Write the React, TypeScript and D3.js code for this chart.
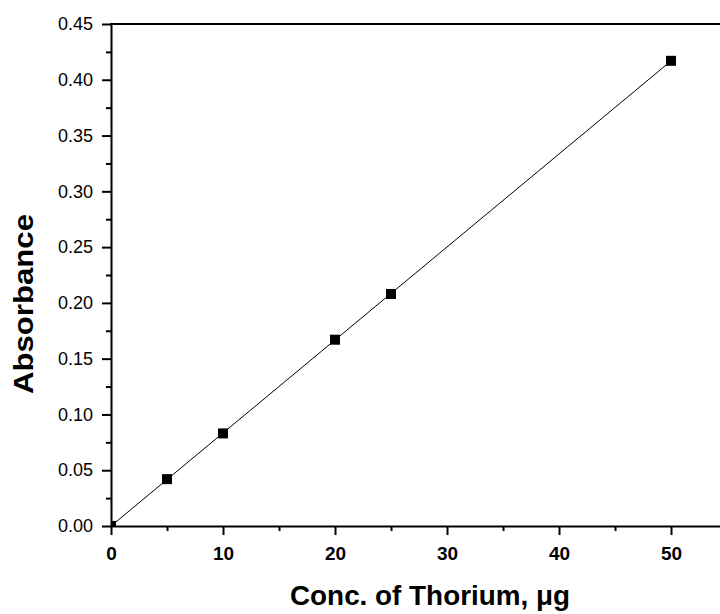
import { useEffect, useRef } from 'react';
import * as d3 from 'd3';

// Calibration data: concentration of thorium (ug) vs absorbance
const concentration = [0, 5, 10, 20, 25, 50];
const absorbance = [0, 0.042, 0.083, 0.167, 0.208, 0.417];

const xTicks = [0, 10, 20, 30, 40, 50];
const xMinorTicks = [5, 15, 25, 35, 45];
const yTicks = [0, 0.05, 0.1, 0.15, 0.2, 0.25, 0.3, 0.35, 0.4, 0.45];
const yMinorTicks = [0.025, 0.075, 0.125, 0.175, 0.225, 0.275, 0.325, 0.375, 0.425];

const svgWidth = 720;
const svgHeight = 614;

function App() {
  const ref = useRef(null);

  useEffect(() => {
    const left = 111;
    const top = 24;
    const bottom = 526;
    const right = 720;
    const font = 'Arial, "Liberation Sans", sans-serif';

    const svg = d3.select(ref.current);
    svg.selectAll('*').remove();

    const x = d3.scaleLinear().domain([0, 10]).range([left, 223]);
    const y = d3.scaleLinear().domain([0, 0.45]).range([bottom, top]);

    // clip for data marks
    svg
      .append('defs')
      .append('clipPath')
      .attr('id', 'plot-clip')
      .append('rect')
      .attr('x', left)
      .attr('y', top)
      .attr('width', right - left)
      .attr('height', bottom - top);

    // Linear fit line
    const n = concentration.length;
    const mx = d3.mean(concentration) as number;
    const my = d3.mean(absorbance) as number;
    let sxy = 0;
    let sxx = 0;
    for (let i = 0; i < n; i++) {
      sxy += (concentration[i] - mx) * (absorbance[i] - my);
      sxx += (concentration[i] - mx) ** 2;
    }
    const slope = sxy / sxx;
    const intercept = my - slope * mx;
    const x0 = concentration[0];
    const x1 = concentration[n - 1];

    const plot = svg.append('g').attr('clip-path', 'url(#plot-clip)');
    plot
      .append('line')
      .attr('x1', x(x0))
      .attr('y1', y(slope * x0 + intercept))
      .attr('x2', x(x1))
      .attr('y2', y(slope * x1 + intercept))
      .attr('stroke', '#000')
      .attr('stroke-width', 1);

    plot
      .selectAll('rect.pt')
      .data(concentration)
      .join('rect')
      .attr('class', 'pt')
      .attr('x', (d) => x(d) - 5)
      .attr('y', (d, i) => y(absorbance[i]) - 5)
      .attr('width', 10)
      .attr('height', 10)
      .attr('fill', '#000');

    // Y axis
    const yAxis = svg
      .append('g')
      .attr('transform', `translate(${left}, 0)`)
      .call(d3.axisLeft(y).tickValues(yTicks).tickSize(9).tickSizeOuter(0).tickFormat(d3.format('.2f')));
    yAxis.select('.domain').attr('stroke-width', 2);
    yAxis.selectAll('.tick line').attr('stroke-width', 2);
    yAxis
      .selectAll('.tick text')
      .attr('font-family', font)
      .attr('font-size', 18)
      .attr('fill', '#000')
      .attr('x', -18);
    svg
      .append('g')
      .attr('transform', `translate(${left}, 0)`)
      .call(d3.axisLeft(y).tickValues(yMinorTicks).tickSize(5).tickFormat(() => ''))
      .call((g) => g.select('.domain').remove())
      .selectAll('.tick line')
      .attr('stroke-width', 2);

    // X axis
    const xAxis = svg
      .append('g')
      .attr('transform', `translate(0, ${bottom})`)
      .call(d3.axisBottom(x).tickValues(xTicks).tickSize(9).tickSizeOuter(0));
    xAxis.select('.domain').attr('d', `M${left},0.5H${right}`).attr('stroke-width', 2);
    xAxis.selectAll('.tick line').attr('stroke-width', 2);
    xAxis
      .selectAll('.tick text')
      .attr('font-family', font)
      .attr('font-size', 19)
      .attr('font-weight', 'bold')
      .attr('fill', '#000')
      .attr('y', 34)
      .attr('dy', 0);
    svg
      .append('g')
      .attr('transform', `translate(0, ${bottom})`)
      .call(d3.axisBottom(x).tickValues(xMinorTicks).tickSize(5).tickFormat(() => ''))
      .call((g) => g.select('.domain').remove())
      .selectAll('.tick line')
      .attr('stroke-width', 2);

    // top frame
    svg
      .append('line')
      .attr('x1', left - 1)
      .attr('x2', right)
      .attr('y1', top)
      .attr('y2', top)
      .attr('stroke', '#000')
      .attr('stroke-width', 2);

    // Axis titles
    svg
      .append('text')
      .attr('transform', `translate(33, 304) rotate(-90)`)
      .attr('text-anchor', 'middle')
      .attr('font-family', font)
      .attr('font-size', 28)
      .attr('font-weight', 'bold')
      .attr('textLength', 180)
      .attr('lengthAdjust', 'spacingAndGlyphs')
      .text('Absorbance');
    svg
      .append('text')
      .attr('x', 430)
      .attr('y', 605)
      .attr('text-anchor', 'middle')
      .attr('font-family', font)
      .attr('font-size', 28)
      .attr('font-weight', 'bold')
      .attr('textLength', 280)
      .attr('lengthAdjust', 'spacingAndGlyphs')
      .text('Conc. of Thorium, μg');
  }, []);

  return (
    <svg
      ref={ref}
      width={svgWidth}
      height={svgHeight}
      style={{ position: 'absolute', left: 0, top: 0, background: '#fff' }}
    ></svg>
  );
}

export default App;
